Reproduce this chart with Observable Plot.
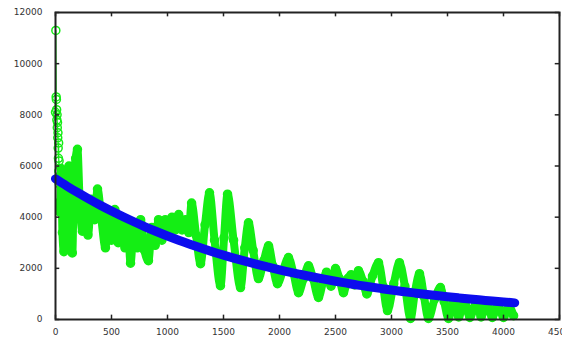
<!DOCTYPE html>
<html>
<head>
<meta charset="utf-8">
<script src="https://cdn.jsdelivr.net/npm/d3@7"></script>
<script src="https://cdn.jsdelivr.net/npm/@observablehq/plot@0.6"></script>
<style>
  html, body { margin: 0; padding: 0; background: #fff; overflow: hidden; }
  #chart svg { display: block; overflow: visible; }
</style>
</head>
<body>
<div id="chart"></div>
<script>
// Tick values and labels
const xTicks = [0, 500, 1000, 1500, 2000, 2500, 3000, 3500, 4000, 4500];
const xTickLabels = ["0", "500", "1000", "1500", "2000", "2500", "3000", "3500", "4000", "4500"];
const yTicks = [0, 2000, 4000, 6000, 8000, 10000, 12000];
const yTickLabels = ["0", "2000", "4000", "6000", "8000", "10000", "12000"];

const greenX = [0, 3, 6, 8, 10, 12, 14, 16, 18, 20, 22, 24, 26, 28, 30, 32, 34, 36, 38,
  40, 50, 62, 75, 90, 105, 120, 135, 150, 165, 180, 196, 215, 240, 265, 290, 320, 350, 375, 410,
  446, 470, 500, 530, 560, 590, 620, 645, 670, 700, 730, 760, 795, 830, 860, 890, 920, 950, 980,
  1010, 1040, 1070, 1100, 1130, 1160, 1190, 1215, 1255, 1295, 1335, 1375, 1420, 1473, 1505, 1536,
  1590, 1652, 1690, 1723, 1765, 1812, 1860, 1902, 1940, 1982, 2030, 2080, 2125, 2170, 2215, 2259,
  2300, 2348, 2390, 2420, 2460, 2500, 2535, 2571, 2610, 2640, 2670, 2705, 2745, 2780, 2830, 2884,
  2925, 2964, 3020, 3071, 3120, 3170, 3210, 3250, 3290, 3330, 3385, 3437, 3470, 3509, 3560, 3600,
  3650, 3700, 3760, 3800, 3850, 3900, 3950, 4000, 4050, 4090];
const greenY = [8100, 11300, 8700, 8600, 8200, 7800, 8000, 7500, 7700, 7100, 7300, 6700, 6300, 6900, 5800, 6200, 5300, 5600, 4600,
  4200, 5900, 3400, 2650, 5300, 3000, 6000, 2700, 2600, 5600, 6300, 6650, 4700, 3450, 4500, 3300, 4700, 3900, 5100, 3900,
  2800, 4100, 3100, 4300, 3000, 4000, 2800, 3800, 2200, 3700, 2800, 3900, 2700, 2300, 3600, 2900, 3900, 3100, 3900,
  3300, 4000, 3500, 4100, 3500, 3900, 3400, 4550, 3300, 2180, 3700, 4950, 3100, 1320, 3200, 4900,
  3100, 1250, 2800, 3780, 2700, 1600, 2300, 2880, 2100, 1400, 1900, 2420, 1800, 1050, 1600, 2100,
  1600, 860, 1500, 1850, 1300, 1990, 1600, 1050, 1600, 1750, 1350, 1910, 1500, 1000, 1700, 2220,
  1300, 350, 1400, 2220, 1300, 40, 1100, 1790, 900, 40, 800, 1250, 700, 40, 800, 100,
  750, 80, 700, 100, 650, 80, 600, 80, 500, 150];
const spikeCount = 19; // first points drawn thin (open circles only)

// Blue fitted curve
const blueX = [0, 100, 200, 300, 400, 500, 600, 700, 800, 900, 1000, 1100, 1200, 1300, 1400, 1500,
  1600, 1700, 1800, 1900, 2000, 2100, 2200, 2300, 2400, 2500, 2600, 2700, 2800, 2900, 3000, 3100,
  3200, 3300, 3400, 3500, 3600, 3700, 3800, 3900, 4000, 4100];
const blueY = [5500, 5220, 4955, 4705, 4465, 4240, 4025, 3820, 3625, 3440, 3265, 3100, 2945, 2795, 2650, 2515,
  2390, 2270, 2155, 2045, 1940, 1840, 1750, 1660, 1575, 1495, 1420, 1345, 1280, 1215, 1150, 1095,
  1040, 985, 935, 890, 845, 800, 760, 720, 685, 650];

const green = greenX.map((x, i) => ({x, y: greenY[i], i}));
const greenBody = green.filter(d => d.i >= spikeCount - 1);
const blue = blueX.map((x, i) => ({x, y: blueY[i]}));

const GREEN = "#14ee14";
const BLUE = "#0c0cee";
const INK = "#222";

const chart = Plot.plot({
  width: 562,
  height: 338,
  marginLeft: 55,
  marginRight: 3,
  marginTop: 12,
  marginBottom: 19,
  x: {domain: [0, 4500], label: null},
  y: {domain: [0, 12000], label: null},
  style: {fontFamily: "DejaVu Sans", fontSize: "9px", background: "#fff", color: "#333"},
  marks: [
    Plot.line(green, {x: "x", y: "y", stroke: GREEN, strokeWidth: 1.2}),
    Plot.dot(green, {x: "x", y: "y", r: 4, stroke: GREEN, strokeWidth: 1.5, fill: "none"}),
    Plot.line(greenBody, {x: "x", y: "y", stroke: GREEN, strokeWidth: 8, curve: "monotone-x", strokeLinecap: "round", strokeLinejoin: "round"}),
    Plot.line(blue, {x: "x", y: "y", stroke: BLUE, strokeWidth: 9, curve: "natural", strokeLinecap: "round"}),
    Plot.ruleX(xTicks, {x: d => d, y1: 0, y2: 170, stroke: INK, strokeWidth: 1.5}),
    Plot.ruleX(xTicks, {x: d => d, y1: 12000, y2: 11830, stroke: INK, strokeWidth: 1.5}),
    Plot.ruleY(yTicks, {y: d => d, x1: 0, x2: 38, stroke: INK, strokeWidth: 1.5}),
    Plot.ruleY(yTicks, {y: d => d, x1: 4500, x2: 4462, stroke: INK, strokeWidth: 1.5}),
    Plot.axisX({ticks: xTicks, tickSize: 0, tickPadding: 9, label: null,
      tickFormat: d => xTickLabels[xTicks.indexOf(d)]}),
    Plot.axisY({ticks: yTicks, tickSize: 0, tickPadding: 13, label: null,
      tickFormat: d => yTickLabels[yTicks.indexOf(d)]}),
    Plot.frame({stroke: INK, strokeWidth: 2})
  ]
});
document.getElementById("chart").append(chart);
</script>
</body>
</html>
